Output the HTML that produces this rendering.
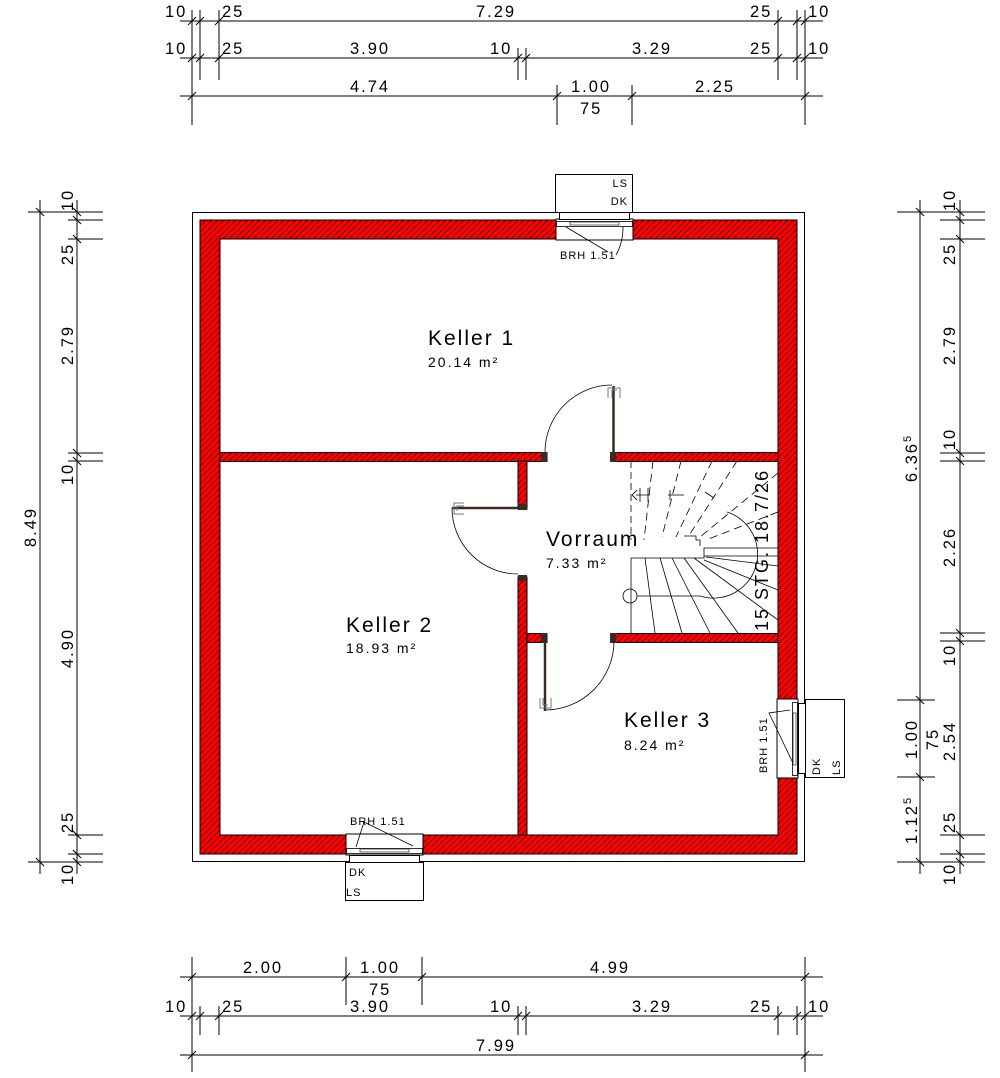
<!DOCTYPE html>
<html><head><meta charset="utf-8"><style>
html,body{margin:0;padding:0;background:#fff;}
svg{display:block;}
text{font-family:"Liberation Sans",sans-serif;fill:#000;}
</style></head><body>
<svg width="1000" height="1078" viewBox="0 0 1000 1078" xmlns="http://www.w3.org/2000/svg">
<defs>
<pattern id="h" patternUnits="userSpaceOnUse" width="6" height="6">
<rect width="6" height="6" fill="#ff0000"/>
<path d="M-1,7 L7,-1 M-1,1 L1,-1 M5,7 L7,5" stroke="#000" stroke-width="0.6"/>
</pattern>
</defs>

<rect x="192.5" y="212.5" width="612" height="649" fill="none" stroke="#000" stroke-width="1"/>

<g fill="url(#h)" stroke="#000" stroke-width="1">
<path fill-rule="evenodd" d="M200,220 H797 V854 H200 Z M220,239 V835 H778 V239 Z"/>
<rect x="220" y="452.5" width="327" height="9"/>
<rect x="612" y="452.5" width="166" height="9"/>
<rect x="518" y="461" width="9" height="48"/>
<rect x="518" y="577" width="9" height="258"/>
<rect x="527" y="633.5" width="20" height="9"/>
<rect x="612" y="633.5" width="166" height="9"/>
</g>
<g fill="#3a2a20">
<rect x="541" y="452" width="6" height="10"/><rect x="610" y="452" width="6" height="10"/>
<rect x="518" y="504" width="9" height="6"/><rect x="518" y="575" width="9" height="6"/>
<rect x="541" y="633" width="6" height="10"/><rect x="610" y="633" width="6" height="10"/>
</g>

<rect x="556" y="219" width="77" height="21" fill="#fff" stroke="#000"/>
<rect x="556.5" y="221.5" width="76" height="5" fill="#fff" stroke="#000" stroke-width="0.8"/>
<rect x="570" y="222" width="49" height="3" fill="none" stroke="#000" stroke-width="0.6"/>
<rect x="559.5" y="212.5" width="70" height="7" fill="#fff" stroke="#000"/>
<rect x="555.5" y="174.5" width="77" height="38" fill="#fff" stroke="#000"/>
<text x="628" y="187" font-size="11" text-anchor="end" letter-spacing="1">LS</text>
<text x="628" y="205" font-size="11" text-anchor="end" letter-spacing="1">DK</text>
<path d="M566,227 L608,252 M623,227 C623,240 620,248 616,255" fill="none" stroke="#000" stroke-width="0.8"/>
<text x="560" y="259" font-size="11" letter-spacing="1">BRH 1.51</text>

<rect x="346" y="834" width="77" height="21" fill="#fff" stroke="#000"/>
<rect x="346.5" y="848.5" width="76" height="5" fill="#fff" stroke="#000" stroke-width="0.8"/>
<rect x="360" y="849" width="49" height="3" fill="none" stroke="#000" stroke-width="0.6"/>
<rect x="349.5" y="855.5" width="70" height="7" fill="#fff" stroke="#000"/>
<rect x="345.5" y="862.5" width="78" height="38" fill="#fff" stroke="#000"/>
<text x="349" y="876" font-size="11" letter-spacing="1">DK</text>
<text x="346" y="896" font-size="11" letter-spacing="1">LS</text>
<path d="M356,847 L364,822 L413,846" fill="none" stroke="#000" stroke-width="0.8"/>
<text x="350" y="825" font-size="11" letter-spacing="1">BRH 1.51</text>

<rect x="777" y="699" width="21" height="79" fill="#fff" stroke="#000"/>
<rect x="792.5" y="702.5" width="5" height="73" fill="#fff" stroke="#000" stroke-width="0.8"/>
<rect x="793" y="713" width="3" height="52" fill="none" stroke="#000" stroke-width="0.6"/>
<rect x="798.5" y="703.5" width="7" height="70" fill="#fff" stroke="#000"/>
<rect x="805.5" y="699.5" width="39" height="78" fill="#fff" stroke="#000"/>
<text transform="translate(820,775) rotate(-90)" font-size="11" letter-spacing="1">DK</text>
<text transform="translate(840,775) rotate(-90)" font-size="11" letter-spacing="1">LS</text>
<path d="M790,710 L769,713 L793,763" fill="none" stroke="#000" stroke-width="0.8"/>
<text transform="translate(767,773) rotate(-90)" font-size="11" letter-spacing="1">BRH 1.51</text>

<g fill="none" stroke="#000" stroke-width="0.8">
<path d="M545,452 A67,67 0 0 1 612,385"/>
<path d="M452,508 A66,66 0 0 0 518,574"/>
<path d="M545,710 A69,69 0 0 0 614,641"/>
</g>
<g stroke="#3a2a20" stroke-width="2.5">
<line x1="613.5" y1="386" x2="613.5" y2="452"/>
<line x1="452" y1="508" x2="518" y2="508"/>
<line x1="545" y1="643" x2="545" y2="711"/>
</g>
<g fill="none" stroke="#777" stroke-width="1">
<path d="M608,398 V388 H620 V398 M612,398 V390 H617"/>
<path d="M464,503 H454 V514 H464 M464,506 H457 V511"/>
<path d="M540,698 V708 H551 V698 M543,698 V705 H548"/>
</g>

<g fill="none" stroke="#000" stroke-width="0.8">
<line x1="631" y1="558" x2="631" y2="633"/>
<line x1="631" y1="461" x2="631" y2="540" stroke-dasharray="7,4"/>
<path d="M631,558 H704 V548 H778 M704,556 H778 M700,546 V540 H696 V536 H684"/>
<line x1="645" y1="558" x2="655" y2="633"/>
<line x1="660" y1="558" x2="682" y2="633"/>
<line x1="672" y1="558" x2="710" y2="633"/>
<line x1="684" y1="558" x2="738" y2="633"/>
<line x1="694" y1="558" x2="778" y2="620"/>
<line x1="704" y1="560" x2="778" y2="590"/>
<line x1="706" y1="557" x2="778" y2="566"/>
<g stroke-dasharray="8,5">
<line x1="653" y1="461" x2="644" y2="540"/>
<line x1="681" y1="461" x2="662" y2="537"/>
<line x1="712" y1="461" x2="676" y2="537"/>
<line x1="737" y1="461" x2="688" y2="537"/>
<line x1="778" y1="473" x2="700" y2="537"/>
<line x1="778" y1="512" x2="706" y2="540"/>
</g>
<path d="M632,495 L637,490 M632,495 L637,500 M640,488 V502 M636,495 H650 M648,488 V502 M670,490 V500 M668,495 H684 M705,492 L714,498"/>
<circle cx="630" cy="596" r="7"/>
<path d="M637,596 H700 A40,40 0 0 0 727,512"/>
</g>
<text transform="translate(768,631) rotate(-90)" font-size="18" letter-spacing="2">15 STG. 18.7/26</text>

<g letter-spacing="2">
<text x="428" y="345" font-size="21">Keller 1</text>
<text x="428" y="367" font-size="14">20.14 m²</text>
<text x="346" y="632" font-size="21">Keller 2</text>
<text x="346" y="653" font-size="14">18.93 m²</text>
<text x="546" y="546" font-size="21">Vorraum</text>
<text x="546" y="568" font-size="14">7.33 m²</text>
<text x="624" y="727" font-size="21">Keller 3</text>
<text x="624" y="750" font-size="14">8.24 m²</text>
</g>

<g stroke="#000" stroke-width="1" fill="none">
<line x1="180" y1="21" x2="823" y2="21"/>
<line x1="180" y1="58" x2="823" y2="58"/>
<line x1="180" y1="96" x2="823" y2="96"/>
<path d="M192,10 V125 M200,10 V80 M219,10 V80 M778,10 V80 M797,10 V80 M805,10 V125 M518,48 V80 M526,48 V80 M557,85 V125 M632,85 V125"/>
<path d="M188,25 l8,-8 M196,25 l8,-8 M215,25 l8,-8 M774,25 l8,-8 M793,25 l8,-8 M801,25 l8,-8
M188,62 l8,-8 M196,62 l8,-8 M215,62 l8,-8 M514,62 l8,-8 M522,62 l8,-8 M774,62 l8,-8 M793,62 l8,-8 M801,62 l8,-8
M188,100 l8,-8 M553,100 l8,-8 M628,100 l8,-8 M801,100 l8,-8"/>
<line x1="180" y1="977" x2="823" y2="977"/>
<line x1="180" y1="1016" x2="823" y2="1016"/>
<line x1="180" y1="1055" x2="823" y2="1055"/>
<path d="M192,957 V1072 M805,957 V1072 M346,957 V1005 M422,957 V1005 M200,1006 V1035 M219,1006 V1035 M518,1006 V1035 M526,1006 V1035 M778,1006 V1035 M797,1006 V1035"/>
<path d="M188,981 l8,-8 M342,981 l8,-8 M418,981 l8,-8 M801,981 l8,-8
M188,1020 l8,-8 M196,1020 l8,-8 M215,1020 l8,-8 M514,1020 l8,-8 M522,1020 l8,-8 M774,1020 l8,-8 M793,1020 l8,-8 M801,1020 l8,-8
M188,1059 l8,-8 M801,1059 l8,-8"/>
<line x1="40" y1="200" x2="40" y2="874"/>
<line x1="77" y1="200" x2="77" y2="874"/>
<path d="M28,212 H103 M28,862 H103 M68,220 H103 M68,239 H103 M68,453 H103 M68,461 H103 M68,835 H103 M68,854 H103"/>
<path d="M36,208 l8,8 M73,208 l8,8 M73,216 l8,8 M73,235 l8,8 M73,449 l8,8 M73,457 l8,8 M73,831 l8,8 M73,850 l8,8 M73,858 l8,8 M36,858 l8,8"/>
<line x1="920" y1="200" x2="920" y2="874"/>
<line x1="960" y1="200" x2="960" y2="874"/>
<path d="M897,212 H985 M897,862 H985 M897,700 H935 M897,777 H935 M940,220 H985 M940,239 H985 M940,453 H985 M940,461 H985 M940,633 H985 M940,641 H985 M940,835 H985 M940,854 H985"/>
<path d="M916,208 l8,8 M916,696 l8,8 M916,773 l8,8 M916,858 l8,8 M956,208 l8,8 M956,216 l8,8 M956,235 l8,8 M956,449 l8,8 M956,457 l8,8 M956,629 l8,8 M956,637 l8,8 M956,831 l8,8 M956,850 l8,8 M956,858 l8,8"/>
</g>
<g font-size="16.5" letter-spacing="2">
<text x="165" y="17">10</text><text x="222" y="17">25</text><text x="476" y="17">7.29</text><text x="750" y="17">25</text><text x="808" y="17">10</text>
<text x="165" y="54">10</text><text x="222" y="54">25</text><text x="350" y="54">3.90</text><text x="490" y="54">10</text><text x="632" y="54">3.29</text><text x="750" y="54">25</text><text x="808" y="54">10</text>
<text x="350" y="92">4.74</text><text x="571" y="92">1.00</text><text x="580" y="114">75</text><text x="695" y="92">2.25</text>
<text x="243" y="973">2.00</text><text x="360" y="973">1.00</text><text x="369" y="995">75</text><text x="590" y="973">4.99</text>
<text x="165" y="1012">10</text><text x="222" y="1012">25</text><text x="350" y="1012">3.90</text><text x="490" y="1012">10</text><text x="632" y="1012">3.29</text><text x="750" y="1012">25</text><text x="808" y="1012">10</text>
<text x="476" y="1051">7.99</text>
</g>
<g font-size="16.5" letter-spacing="2" text-anchor="middle">
<text transform="translate(73,200) rotate(-90)">10</text>
<text transform="translate(73,254) rotate(-90)">25</text>
<text transform="translate(73,345) rotate(-90)">2.79</text>
<text transform="translate(73,474) rotate(-90)">10</text>
<text transform="translate(36,527) rotate(-90)">8.49</text>
<text transform="translate(73,648) rotate(-90)">4.90</text>
<text transform="translate(73,822) rotate(-90)">25</text>
<text transform="translate(73,874) rotate(-90)">10</text>
<text transform="translate(955,200) rotate(-90)">10</text>
<text transform="translate(955,254) rotate(-90)">25</text>
<text transform="translate(955,345) rotate(-90)">2.79</text>
<text transform="translate(955,439) rotate(-90)">10</text>
<text transform="translate(917,458) rotate(-90)">6.36<tspan font-size="11" dy="-6">5</tspan></text>
<text transform="translate(955,547) rotate(-90)">2.26</text>
<text transform="translate(955,655) rotate(-90)">10</text>
<text transform="translate(917,739) rotate(-90)">1.00</text>
<text transform="translate(938,739) rotate(-90)">75</text>
<text transform="translate(955,741) rotate(-90)">2.54</text>
<text transform="translate(917,820) rotate(-90)">1.12<tspan font-size="11" dy="-6">5</tspan></text>
<text transform="translate(955,822) rotate(-90)">25</text>
<text transform="translate(955,874) rotate(-90)">10</text>
</g>
</svg>
</body></html>
